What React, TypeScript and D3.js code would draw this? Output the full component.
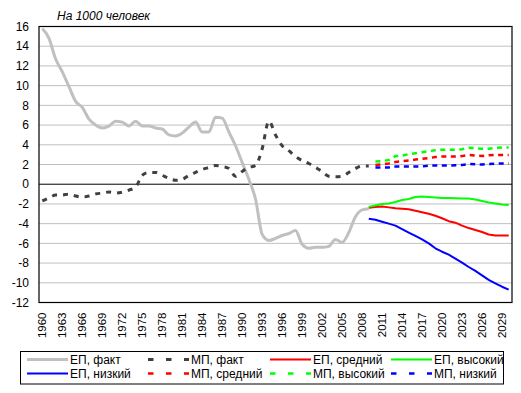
import React from "react";
import * as d3 from "d3";

// categories
const years = d3.range(1960, 2031);
const factYears = d3.range(1960, 2010);
const epProjYears = d3.range(2009, 2031);
const mpProjYears = d3.range(2010, 2031);
const yTicks = [16, 14, 12, 10, 8, 6, 4, 2, 0, -2, -4, -6, -8, -10, -12];

// ЕП, факт  1960-2009
const epFact = [15.8, 14.8, 12.7, 11.4, 9.9, 8.4, 7.8, 6.6, 6.0, 5.7,
  5.9, 6.4, 6.3, 5.9, 6.4, 5.9, 5.9, 5.7, 5.6, 5.0,
  4.9, 5.2, 5.8, 6.3, 5.3, 5.3, 6.8, 6.7, 5.3, 3.9,
  2.2, 0.5, -1.5, -5.1, -5.7, -5.5, -5.2, -5.0, -4.7, -6.1,
  -6.5, -6.4, -6.4, -6.3, -5.6, -5.9, -4.9, -3.3, -2.6, -2.5];
// МП, факт  1960-2009
const mpFact = [-1.7, -1.4, -1.1, -1.1, -1.0, -1.2, -1.3, -1.2, -1.0, -0.9,
  -0.8, -0.9, -0.8, -0.6, -0.3, 0.9, 1.2, 1.2, 0.9, 0.6,
  0.4, 0.5, 0.9, 1.2, 1.5, 1.7, 1.9, 1.8, 1.6, 0.8,
  1.3, 1.7, 1.9, 3.6, 6.4, 5.0, 3.9, 3.4, 2.8, 2.4,
  2.1, 1.7, 1.3, 0.8, 0.75, 0.8, 1.2, 1.6, 1.85, 1.85];
// ЕП projections 2009-2030
const epMid = [-2.4, -2.3, -2.25, -2.35, -2.45, -2.5, -2.55, -2.7, -2.85, -3.0, -3.2,
  -3.45, -3.75, -3.9, -4.2, -4.45, -4.65, -4.85, -5.1, -5.2, -5.2, -5.2];
const epHigh = [-2.3, -2.15, -2.0, -1.95, -1.8, -1.6, -1.5, -1.3, -1.25, -1.3, -1.35,
  -1.4, -1.4, -1.42, -1.45, -1.45, -1.55, -1.7, -1.85, -1.95, -2.05, -2.1];
const epLow = [-3.5, -3.6, -3.8, -4.0, -4.2, -4.55, -4.9, -5.25, -5.6, -6.0, -6.5,
  -6.85, -7.15, -7.55, -7.95, -8.4, -8.8, -9.25, -9.7, -10.05, -10.4, -10.7];
// МП projections 2010-2030
const mpMid = [1.96, 2.0, 2.1, 2.25, 2.35, 2.4, 2.5, 2.57, 2.65, 2.75, 2.8,
  2.8, 2.8, 2.85, 2.97, 2.9, 2.87, 2.95, 2.97, 2.97, 2.97];
const mpHigh = [2.3, 2.35, 2.45, 2.85, 2.9, 3.05, 3.15, 3.25, 3.35, 3.45, 3.5,
  3.5, 3.5, 3.55, 3.7, 3.65, 3.6, 3.6, 3.7, 3.72, 3.72];
const mpLow = [1.69, 1.69, 1.7, 1.79, 1.79, 1.79, 1.79, 1.8, 1.89, 1.89, 1.89,
  1.89, 1.93, 1.96, 2.05, 2.02, 2.0, 2.05, 2.09, 2.09, 2.09];

const font = "'Liberation Sans', Arial, sans-serif";

export default function App() {
  const width = 521, height = 393;
  const left = 39, right = 512, top = 26.5, bottom = 302.5;

  const x = d3.scalePoint<number>().domain(years).range([left, right]).padding(0.5);
  const y = d3.scaleLinear().domain([-12, 16]).range([bottom, top]);

  const smooth = d3.line<[number, number]>()
    .x(d => x(d[0])!).y(d => y(d[1])).curve(d3.curveMonotoneX);
  const straight = d3.line<[number, number]>()
    .x(d => x(d[0])!).y(d => y(d[1]));
  const pts = (ys: number[], vs: number[]) => ys.map((yr, i) => [yr, vs[i]] as [number, number]);

  const series = [
    { label: "ЕП, факт", color: "#c0c0c0", w: 3, dash: null, d: smooth(pts(factYears, epFact)) },
    { label: "МП, факт", color: "#404040", w: 3, dash: "5 6", d: smooth(pts(factYears, mpFact)) },
    { label: "ЕП, средний", color: "#ff0000", w: 2, dash: null, d: straight(pts(epProjYears, epMid)) },
    { label: "ЕП, высокий", color: "#00ff00", w: 2, dash: null, d: straight(pts(epProjYears, epHigh)) },
    { label: "ЕП, низкий", color: "#0000ff", w: 2, dash: null, d: straight(pts(epProjYears, epLow)) },
    { label: "МП, средний", color: "#ff0000", w: 2.5, dash: "5 4.5", d: straight(pts(mpProjYears, mpMid)) },
    { label: "МП, высокий", color: "#00ff00", w: 2.5, dash: "5 4.5", d: straight(pts(mpProjYears, mpHigh)) },
    { label: "МП, низкий", color: "#0000ff", w: 2.5, dash: "5 4.5", d: straight(pts(mpProjYears, mpLow)) },
  ];

  const legendCols = [27, 148, 270, 391];
  const legendRows = [359.5, 373.5];

  return (
    <svg width={width} height={height} style={{ position: "absolute", left: 0, top: 0, background: "#fff" }}
      fontFamily={font}>
      <text x={57} y={20} fontSize={12} fontStyle="italic">На 1000 человек</text>

      {yTicks.map(t => (
        <g key={t}>
          {t !== 0 && t !== 16 && t !== -12 &&
            <line x1={left} x2={right} y1={y(t)} y2={y(t)} stroke="#c0c0c0" strokeWidth={1} />}
          <text x={29} y={y(t)} dy="0.35em" textAnchor="end" fontSize={12}>{t}</text>
        </g>
      ))}
      <line x1={left} x2={right} y1={y(0)} y2={y(0)} stroke="#000" strokeWidth={1} />
      <rect x={left} y={top} width={right - left} height={bottom - top} fill="none" stroke="#000" strokeWidth={1.2} />

      {years.filter(yr => (yr - 1960) % 3 === 0).map(yr => (
        <text key={yr} transform={`translate(${x(yr)},312.5) rotate(-90)`} dy="0.35em"
          textAnchor="end" fontSize={11.5}>{yr}</text>
      ))}

      {series.map(s => (
        <path key={s.label} d={s.d ?? ""} fill="none" stroke={s.color} strokeWidth={s.w}
          strokeDasharray={s.dash ?? undefined} strokeLinejoin="round" />
      ))}

      <rect x={20.5} y={351.5} width={483} height={32.5} fill="#fff" stroke="#000" strokeWidth={1} />
      {series.map((s, k) => {
        // row 1 = first four series, row 2 = the rest
        const cx = legendCols[k % 4];
        const cy = legendRows[Math.floor(k / 4)];
        return (
          <g key={s.label}>
            <line x1={cx} x2={cx + 41} y1={cy} y2={cy} stroke={s.color} strokeWidth={s.w}
              strokeDasharray={s.dash ? "5.5 12.5" : undefined} />
            <text x={cx + 43} y={cy} dy="0.35em" fontSize={12}>{s.label}</text>
          </g>
        );
      })}
    </svg>
  );
}
